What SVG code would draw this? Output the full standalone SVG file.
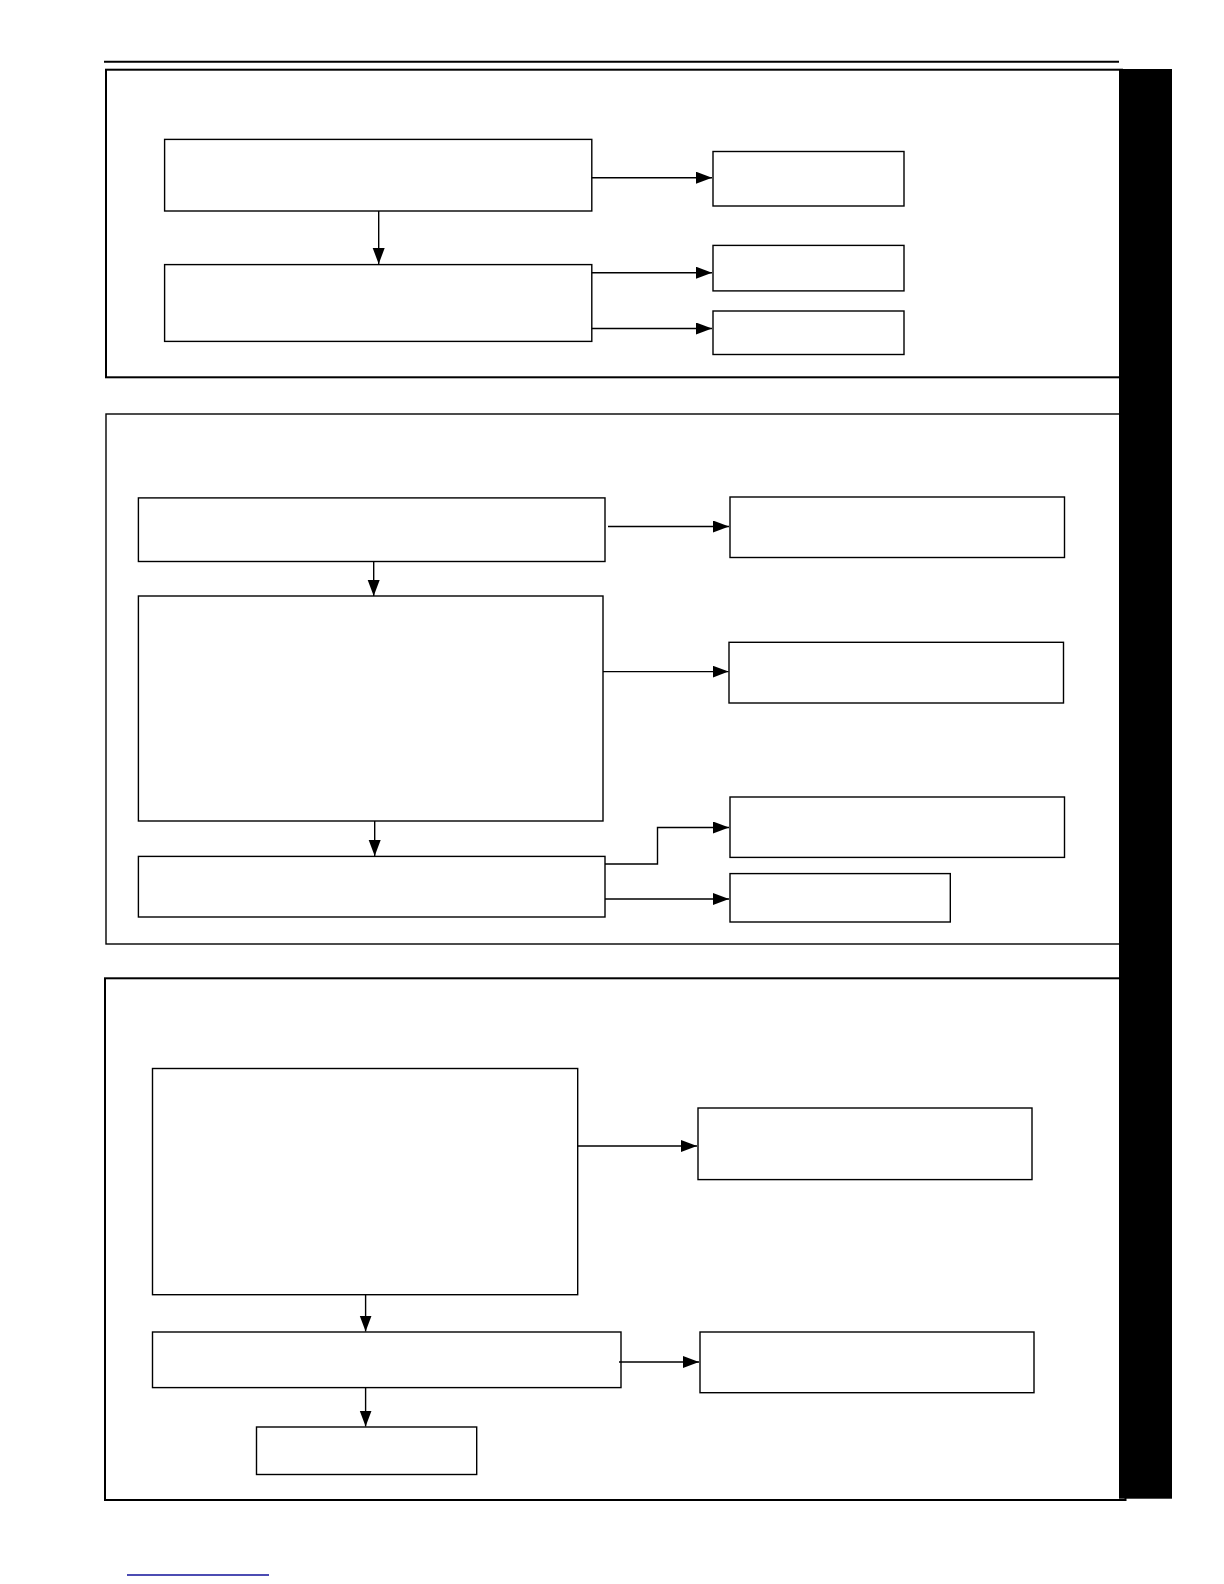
<svg xmlns="http://www.w3.org/2000/svg" width="1224" height="1584" viewBox="0 0 1224 1584">
<style>
.box{fill:#fff;stroke:#000;stroke-width:1.4}
.panel{fill:none;stroke:#000}
.conn{fill:none;stroke:#000;stroke-width:1.4}
</style>
<defs>
<marker id="ah" markerUnits="userSpaceOnUse" markerWidth="18" markerHeight="14" refX="16" refY="6" orient="auto">
<path d="M0,0 L16,6 L0,12 Z" fill="#000"/>
</marker>
</defs>
<rect width="1224" height="1584" fill="#fff"/>
<line x1="104" y1="61.7" x2="1119" y2="61.7" stroke="#000" stroke-width="2"/>
<g id="panel1"><rect class="panel" x="106" y="69.7" width="1016" height="307.6" stroke-width="2"/></g>
<g id="panel2"><rect class="panel" x="106" y="414" width="1016" height="530" stroke-width="1.4"/></g>
<g id="panel3"><rect class="panel" x="105" y="978.3" width="1020.5" height="521.7" stroke-width="2"/></g>
<rect id="sidebar" x="1119" y="69" width="53" height="1429.7" fill="#000"/>
<line x1="127" y1="1575" x2="269" y2="1575" stroke="#10109a" stroke-width="1.6"/>

<g id="A1"><rect class="box" x="164.6" y="139.4" width="427.2" height="71.6"/></g>
<g id="A2"><rect class="box" x="164.6" y="264.6" width="427.2" height="76.8"/></g>
<g id="R1"><rect class="box" x="713" y="151.5" width="191" height="54.5"/></g>
<g id="R2"><rect class="box" x="713" y="245.4" width="191" height="45.5"/></g>
<g id="R3"><rect class="box" x="713" y="311" width="191" height="43.5"/></g>

<g id="B1"><rect class="box" x="138.4" y="497.9" width="466.6" height="63.6"/></g>
<g id="B2"><rect class="box" x="138.4" y="596" width="464.6" height="225"/></g>
<g id="B3"><rect class="box" x="138.4" y="856.4" width="466.6" height="60.6"/></g>
<g id="RB1"><rect class="box" x="730" y="497" width="334.5" height="60.5"/></g>
<g id="RB2"><rect class="box" x="729" y="642.3" width="334.5" height="60.7"/></g>
<g id="RB3"><rect class="box" x="730" y="797" width="334.5" height="60.4"/></g>
<g id="RB4"><rect class="box" x="730" y="873.6" width="220.3" height="48.4"/></g>

<g id="C1"><rect class="box" x="152.5" y="1068.5" width="425.2" height="226.2"/></g>
<g id="C2"><rect class="box" x="152.5" y="1332" width="468.5" height="55.6"/></g>
<g id="C3"><rect class="box" x="256.5" y="1427" width="220.2" height="47.5"/></g>
<g id="RC1"><rect class="box" x="698" y="1108" width="334" height="71.6"/></g>
<g id="RC2"><rect class="box" x="700" y="1332" width="334" height="60.7"/></g>

<g id="connectors">
<line class="conn" x1="591.8" y1="177.7" x2="712" y2="177.7" marker-end="url(#ah)"/>
<line class="conn" x1="378.7" y1="211" x2="378.7" y2="264" marker-end="url(#ah)"/>
<line class="conn" x1="591.8" y1="272.7" x2="712" y2="272.7" marker-end="url(#ah)"/>
<line class="conn" x1="591.8" y1="328.5" x2="712" y2="328.5" marker-end="url(#ah)"/>

<line class="conn" x1="608" y1="526.5" x2="729" y2="526.5" marker-end="url(#ah)"/>
<line class="conn" x1="373.7" y1="561.5" x2="373.7" y2="596" marker-end="url(#ah)"/>
<line class="conn" x1="603" y1="671.6" x2="728.5" y2="671.6" marker-end="url(#ah)"/>
<line class="conn" x1="374.7" y1="821" x2="374.7" y2="856" marker-end="url(#ah)"/>
<polyline class="conn" points="605,864 657.5,864 657.5,827.5 729,827.5" marker-end="url(#ah)"/>
<line class="conn" x1="605" y1="899" x2="729" y2="899" marker-end="url(#ah)"/>

<line class="conn" x1="577.7" y1="1146" x2="697" y2="1146" marker-end="url(#ah)"/>
<line class="conn" x1="365.6" y1="1294.7" x2="365.6" y2="1331.5" marker-end="url(#ah)"/>
<line class="conn" x1="619" y1="1362" x2="699" y2="1362" marker-end="url(#ah)"/>
<line class="conn" x1="365.6" y1="1387.6" x2="365.6" y2="1426.5" marker-end="url(#ah)"/>
</g>
</svg>
